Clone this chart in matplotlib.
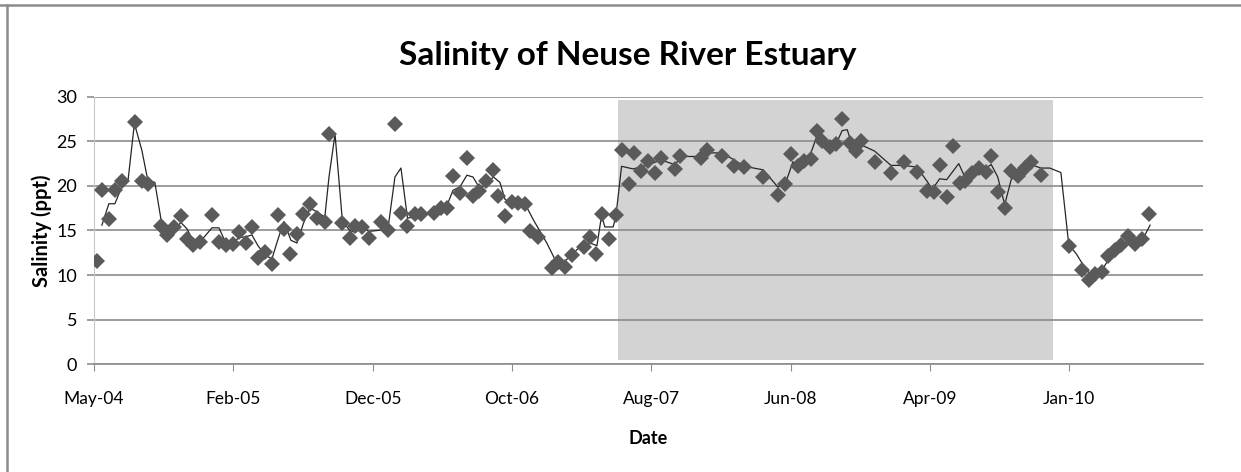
import datetime as dt
import matplotlib
matplotlib.use('Agg')
import matplotlib.pyplot as plt
import matplotlib.dates as mdates
from matplotlib.lines import Line2D

plt.rcParams['font.family'] = ['Lato', 'DejaVu Sans']

# axis starts on 1 May 2004, Excel date axis with a 300-day major unit
start = dt.date(2004, 5, 1)
tick_step_days = 300
n_ticks = 8
axis_end_day = 2388

# measured salinity (ppt), days counted from 1 May 2004
sample_day = [6, 17, 32, 46, 61, 88, 103, 116, 145, 157,
              172, 187, 200, 214, 228, 254, 269, 284, 299, 312,
              327, 340, 353, 368, 383, 396, 409, 422, 437, 451,
              465, 480, 497, 506, 535, 551, 563, 578, 592, 619,
              634, 648, 660, 675, 691, 705, 732, 747, 760, 773,
              788, 803, 816, 830, 844, 859, 871, 885, 900, 914,
              928, 939, 955, 986, 1000, 1014, 1029, 1055, 1068, 1081,
              1093, 1109, 1124, 1138, 1151, 1163, 1178, 1192, 1207, 1221,
              1250, 1262, 1307, 1320, 1352, 1379, 1400, 1441, 1472, 1487,
              1500, 1515, 1529, 1543, 1556, 1568, 1584, 1597, 1611, 1627,
              1640, 1652, 1681, 1716, 1744, 1772, 1794, 1808, 1821, 1836,
              1850, 1864, 1876, 1891, 1905, 1921, 1932, 1946, 1961, 1975,
              1989, 2004, 2017, 2039, 2099, 2128, 2143, 2156, 2171, 2184,
              2198, 2212, 2227, 2241, 2257, 2271]
salinity = [11.6, 19.5, 16.3, 19.5, 20.6, 27.2, 20.6, 20.2, 15.5, 14.5,
            15.4, 16.6, 14.0, 13.4, 13.7, 16.7, 13.7, 13.4, 13.5, 14.8,
            13.6, 15.4, 11.9, 12.6, 11.2, 16.7, 15.2, 12.4, 14.6, 16.9,
            18.0, 16.4, 16.0, 25.8, 15.8, 14.2, 15.5, 15.4, 14.2, 15.9,
            15.0, 26.9, 17.0, 15.5, 16.9, 16.9, 17.0, 17.5, 17.5, 21.1,
            19.2, 23.1, 18.9, 19.4, 20.5, 21.8, 18.9, 16.6, 18.2, 18.1,
            18.0, 14.9, 14.3, 10.8, 11.5, 10.9, 12.3, 13.2, 14.3, 12.4,
            16.9, 14.0, 16.7, 24.0, 20.2, 23.7, 21.7, 22.8, 21.4, 23.1,
            21.9, 23.4, 23.1, 24.0, 23.4, 22.2, 22.1, 21.0, 19.0, 20.2,
            23.6, 22.2, 22.8, 23.0, 26.1, 25.0, 24.4, 24.7, 27.5, 24.8,
            23.9, 25.0, 22.7, 21.4, 22.7, 21.6, 19.4, 19.3, 22.3, 18.7,
            24.5, 20.3, 20.5, 21.4, 22.0, 21.6, 23.3, 19.3, 17.5, 21.7,
            21.1, 22.0, 22.7, 21.2, 13.3, 10.6, 9.5, 10.1, 10.4, 12.1,
            12.8, 13.4, 14.4, 13.5, 14.1, 16.9]

# smoothed line
trend_day = [17, 32, 45, 59, 73, 87, 103, 116, 131, 145,
             157, 172, 187, 200, 214, 228, 254, 269, 284, 299,
             312, 327, 340, 353, 368, 383, 396, 409, 424, 437,
             451, 465, 480, 497, 506, 519, 535, 551, 563, 578,
             592, 619, 634, 648, 661, 675, 691, 705, 732, 747,
             760, 773, 788, 803, 816, 831, 844, 860, 874, 885,
             900, 914, 928, 946, 975, 996, 1010, 1021, 1047, 1068,
             1083, 1093, 1100, 1118, 1124, 1136, 1161, 1190, 1221, 1250,
             1268, 1307, 1320, 1352, 1379, 1400, 1441, 1472, 1487, 1505,
             1515, 1529, 1541, 1556, 1568, 1584, 1597, 1611, 1622, 1632,
             1652, 1681, 1716, 1744, 1772, 1794, 1805, 1821, 1836, 1862,
             1876, 1891, 1905, 1921, 1932, 1946, 1961, 1975, 1989, 2004,
             2017, 2039, 2058, 2082, 2099, 2115, 2128, 2143, 2156, 2171,
             2184, 2198, 2212, 2227, 2241, 2257, 2274]
trend_salinity = [15.6, 18.0, 18.0, 19.8, 20.5, 27.0, 24.0, 20.6, 20.4, 16.0,
                  15.2, 15.0, 15.9, 15.2, 13.8, 13.7, 15.3, 15.3, 13.6, 13.6,
                  14.2, 14.3, 14.5, 13.3, 12.3, 11.8, 14.0, 16.0, 13.9, 13.6,
                  15.8, 17.5, 17.1, 16.5, 21.0, 25.8, 16.0, 15.0, 14.8, 15.4,
                  14.9, 15.05, 15.6, 21.0, 22.0, 16.4, 16.5, 16.8, 17.0, 17.4,
                  17.8, 19.5, 19.9, 21.2, 21.0, 19.7, 20.2, 21.0, 20.4, 18.5,
                  17.9, 18.0, 18.0, 16.2, 13.6, 11.4, 11.4, 11.9, 13.2, 13.6,
                  13.3, 16.7, 15.4, 15.4, 16.7, 22.2, 21.9, 22.3, 22.9, 22.4,
                  23.3, 23.3, 23.7, 23.7, 22.9, 22.2, 21.8, 19.9, 20.0, 22.7,
                  22.4, 22.6, 23.3, 25.5, 25.1, 24.6, 24.6, 26.2, 26.3, 24.6,
                  24.6, 23.9, 22.3, 22.3, 22.1, 20.5, 19.6, 20.8, 20.7, 22.5,
                  20.9, 21.4, 21.8, 22.0, 22.4, 21.0, 17.9, 20.7, 21.5, 21.8,
                  22.4, 22.0, 22.0, 21.5, 13.4, 12.4, 11.3, 10.2, 10.2, 10.6,
                  11.7, 12.4, 13.2, 13.9, 13.9, 13.9, 15.6]

# shaded period (grey block)
shade_start_day = 1129
shade_end_day = 2065
shade_low = 0.45
shade_high = 29.65


def to_dates(days):
    return [start + dt.timedelta(days=d) for d in days]


W, H = 1241, 472
fig = plt.figure(figsize=(W / 100, H / 100), dpi=100)
ax = fig.add_axes([94 / W, 1 - 364.3 / H, (1203 - 94) / W, (364.3 - 96.7) / H])

grid_col = '#8c8c8c'

ax.fill_between(to_dates([shade_start_day, shade_end_day]), shade_low, shade_high,
                color='#d3d3d3', linewidth=0, zorder=0.2)

ax.plot(to_dates(trend_day), trend_salinity, color='#262626', lw=0.9, zorder=3)
ax.plot(to_dates(sample_day), salinity, linestyle='none', marker='D', ms=8,
        color='#5a5a5a', markeredgewidth=0, zorder=4)

ax.set_xlim(start, start + dt.timedelta(days=axis_end_day))
ax.set_ylim(0, 30)
ax.set_yticks(range(0, 31, 5))
ax.set_xticks(to_dates([tick_step_days * k for k in range(n_ticks)]))
ax.xaxis.set_major_formatter(mdates.DateFormatter('%b-%y'))

ax.set_axisbelow(True)
ax.yaxis.grid(True, color=grid_col, lw=1.2, zorder=0.5)

for side in ['top', 'right']:
    ax.spines[side].set_visible(False)
ax.spines['left'].set_color('#c8c8c8')
ax.spines['left'].set_linewidth(0.8)
ax.spines['bottom'].set_color(grid_col)
ax.spines['bottom'].set_linewidth(1.2)

ax.tick_params(axis='x', direction='out', length=5, color=grid_col, width=0.8,
               labelsize=12.5, pad=14)
ax.tick_params(axis='y', direction='out', length=5, color=grid_col, width=1.2,
               labelsize=13, pad=7)

fig.text(628 / W, 1 - 55 / H, 'Salinity of Neuse River Estuary', ha='center',
         va='center', fontsize=24, fontweight='bold')
fig.text(42 / W, 1 - 230.5 / H, 'Salinity (ppt)', rotation=90, ha='center',
         va='center', fontsize=14.5, fontweight='bold')
fig.text(648 / W, 1 - 438 / H, 'Date', ha='center', va='center', fontsize=13,
         fontweight='bold')

# frame of the chart area (top and left edge are visible in the picture)
fig.add_artist(Line2D([0, 1], [1 - 5 / H, 1 - 5 / H], color='#8c8c8c', lw=1.8))
fig.add_artist(Line2D([7 / W, 7 / W], [1 - 5 / H, 0], color='#8c8c8c', lw=1.8))

fig.savefig('out.png', dpi=100)
